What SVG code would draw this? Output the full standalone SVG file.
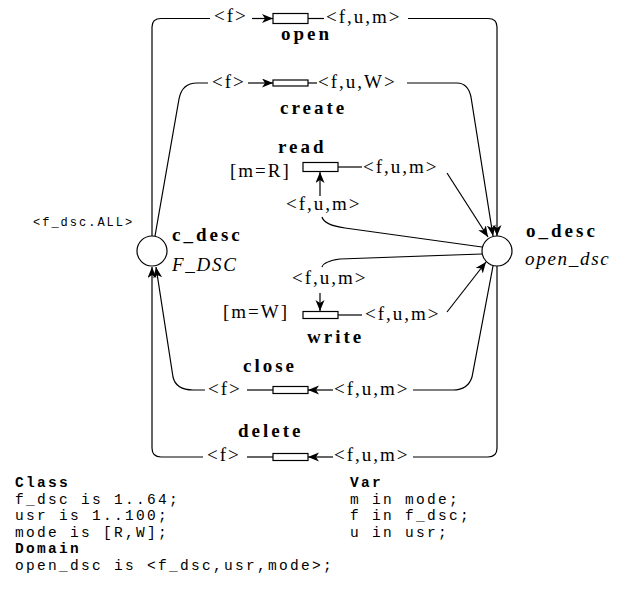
<svg xmlns="http://www.w3.org/2000/svg" width="620" height="598" viewBox="0 0 620 598">
<defs>
<marker id="ah" markerUnits="userSpaceOnUse" markerWidth="12" markerHeight="10" refX="11" refY="4.5" orient="auto">
<path d="M0,0 L11,4.5 L0,9 L3,4.5 z" fill="#000"/>
</marker>
<style>
.e{fill:none;stroke:#000;stroke-width:1.2}
.a{fill:none;stroke:#000;stroke-width:1.2;marker-end:url(#ah)}
.t{fill:#fff;stroke:#000;stroke-width:1.2}
.p{fill:#fff;stroke:#000;stroke-width:1.2}
.l{font-size:19px;letter-spacing:2px;fill:#000}
.b{font-size:19px;font-weight:bold;letter-spacing:3px;fill:#000}
.i{font-size:19px;font-style:italic;letter-spacing:1.7px;fill:#000}
.m{font-size:14.5px;letter-spacing:2.3px;fill:#000}
.mb{font-size:14.5px;font-weight:bold;letter-spacing:2.3px;fill:#000}
.ms{font-size:12px;letter-spacing:2px;fill:#000}
</style>
</defs>
<rect width="620" height="598" fill="#fff"/>
<g id="connectors">
<path class="e" d="M152,236 V27 Q152,18.5 161,18.5 H210"/>
<path class="a" d="M252,18.5 H273"/>
<path class="e" d="M308,18.5 H324"/>
<path class="a" d="M408,18.5 H488 Q497,18.5 497,27 V236"/>
<path class="e" d="M155,236 L179,99 Q182,83 197,83 H208"/>
<path class="a" d="M248,83 H273"/>
<path class="e" d="M308,83 H317"/>
<path class="a" d="M407,83 H457 Q468,83 471,97 L493,236"/>
<path class="e" d="M482,247 L345,228 Q324,225 322,217"/>
<path class="a" d="M320,196 V172"/>
<path class="e" d="M338,167 H362"/>
<path class="a" d="M447,173 L488,237"/>
<path class="e" d="M482,254 L340,259 Q324,261 322,267"/>
<path class="a" d="M320,293 V311"/>
<path class="e" d="M338,315 H362"/>
<path class="a" d="M447,312 L486,262"/>
<path class="e" d="M493,266 L472,377 Q468,390 453,390 H413"/>
<path class="a" d="M333,390 H308"/>
<path class="e" d="M273,390 H247"/>
<path class="a" d="M205,390 H193 Q176,390 173,377 L156,267"/>
<path class="e" d="M497,266 V448 Q497,457 488,457 H413"/>
<path class="a" d="M333,457 H308"/>
<path class="e" d="M273,457 H247"/>
<path class="a" d="M203,457 H161 Q152,457 152,448 V267"/>
</g>
<g font-family="Liberation Serif, Times New Roman, serif">
<g id="c_desc">
<circle class="p" cx="152" cy="251" r="15"/>
<text class="b" x="172" y="241">c_desc</text>
<text class="i" x="172" y="271">F_DSC</text>
<text class="ms" x="33" y="226" font-family="Liberation Mono, Courier New, monospace">&lt;f_dsc.ALL&gt;</text>
</g>
<g id="o_desc">
<circle class="p" cx="497" cy="251" r="15"/>
<text class="b" x="526" y="237">o_desc</text>
<text class="i" x="525" y="265">open_dsc</text>
</g>
<g id="open">
<rect class="t" x="273" y="13.5" width="35" height="10"/>
<text class="b" x="281" y="40">open</text>
<text class="l" x="214" y="22">&lt;f&gt;</text>
<text class="l" x="326" y="23">&lt;f,u,m&gt;</text>
</g>
<g id="create">
<rect class="t" x="273" y="80" width="35" height="6"/>
<text class="b" x="280" y="114">create</text>
<text class="l" x="212" y="88">&lt;f&gt;</text>
<text class="l" x="318" y="88">&lt;f,u,W&gt;</text>
</g>
<g id="read">
<rect class="t" x="303" y="162.5" width="35" height="9"/>
<text class="b" x="278" y="153">read</text>
<text class="l" x="230" y="177">[m=R]</text>
<text class="l" x="363" y="173">&lt;f,u,m&gt;</text>
<text class="l" x="286" y="210">&lt;f,u,m&gt;</text>
</g>
<g id="write">
<rect class="t" x="303" y="311.5" width="35" height="7"/>
<text class="b" x="307" y="343">write</text>
<text class="l" x="223" y="318">[m=W]</text>
<text class="l" x="365" y="320">&lt;f,u,m&gt;</text>
<text class="l" x="292" y="284">&lt;f,u,m&gt;</text>
</g>
<g id="close">
<rect class="t" x="273" y="386.5" width="35" height="7"/>
<text class="b" x="243" y="372">close</text>
<text class="l" x="208" y="395">&lt;f&gt;</text>
<text class="l" x="334" y="395">&lt;f,u,m&gt;</text>
</g>
<g id="delete">
<rect class="t" x="273" y="453.5" width="35" height="7"/>
<text class="b" x="238" y="437">delete</text>
<text class="l" x="207" y="461">&lt;f&gt;</text>
<text class="l" x="334" y="461">&lt;f,u,m&gt;</text>
</g>
</g>
<g id="declarations" font-family="Liberation Mono, Courier New, monospace">
<text class="mb" x="15" y="487">Class</text>
<text class="m" x="15" y="503.5">f_dsc is 1..64;</text>
<text class="m" x="15" y="520">usr is 1..100;</text>
<text class="m" x="15" y="536.5">mode is [R,W];</text>
<text class="mb" x="15" y="553">Domain</text>
<text class="m" x="15" y="569.5">open_dsc is &lt;f_dsc,usr,mode&gt;;</text>
<text class="mb" x="350" y="487">Var</text>
<text class="m" x="350" y="503.5">m in mode;</text>
<text class="m" x="350" y="520">f in f_dsc;</text>
<text class="m" x="350" y="536.5">u in usr;</text>
</g>
</svg>
